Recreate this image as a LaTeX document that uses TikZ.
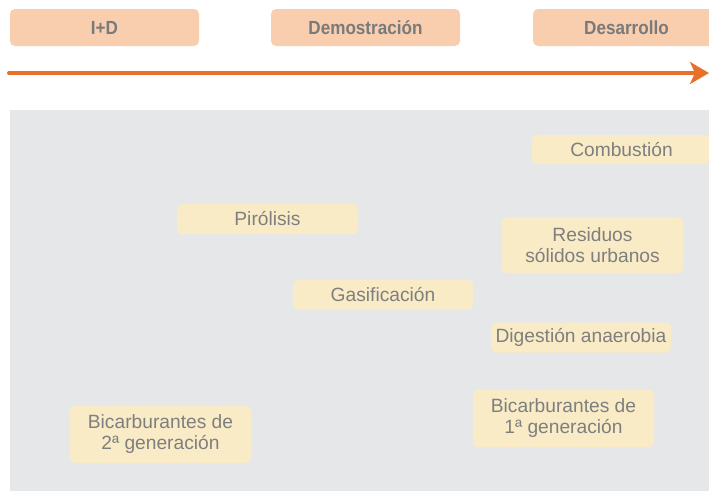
\documentclass[tikz,border=0pt]{standalone}
\usepackage{fontspec}
\setmainfont{Liberation Sans}
\newfontfamily\topfont[FakeStretch=0.9]{Liberation Sans}
\usetikzlibrary{arrows.meta}
\definecolor{peach}{HTML}{F8CEAF}
\definecolor{arroworange}{HTML}{E9702A}
\definecolor{bggray}{HTML}{E6E7E8}
\definecolor{paleyellow}{HTML}{F8EBC6}
\definecolor{txtgray}{HTML}{7F7F7F}
\definecolor{toptxt}{HTML}{7A7A7A}
\tikzset{
  phase/.style={fill=peach, rounded corners=5pt, minimum width=189pt, minimum height=37pt,
    inner sep=0pt, text=toptxt, font=\topfont\bfseries\fontsize{19}{22}\selectfont},
  tech/.style={fill=paleyellow, rounded corners=5pt, minimum width=181pt, minimum height=30pt,
    inner sep=0pt, align=center, text=txtgray, font=\fontsize{19.2}{21}\selectfont},
}
\begin{document}
\begin{tikzpicture}[x=1pt,y=-1pt]
\useasboundingbox (0,0) rectangle (709,491);
\clip (0,0) rectangle (709,491);
\fill[bggray] (10,110) rectangle (709,491);
% phases
\node[phase] (id) at (104.5,27.5) {I+D};
\node[phase] (demo) at (365.5,27.5) {Demostración};
\node[phase, minimum width=187pt] (desa) at (626.5,27.5) {Desarrollo};
% arrow
\coordinate (arrs) at (9,73);
\coordinate (arre) at (709,73);
\draw[arroworange, line width=4pt, line cap=round,
  -{Stealth[length=19pt,width=22pt,inset=5pt]}] (arrs) -- (arre);
% technologies
\node[tech, minimum width=179pt, minimum height=29pt] (comb) at (621.5,149.5) {Combustión};
\node[tech] (piro) at (267.5,219) {Pirólisis};
\node[tech, minimum height=56pt] (rsu) at (592.5,245) {Residuos\\sólidos urbanos};
\node[tech, minimum width=180pt, minimum height=29.5pt] (gasi) at (383,294.8) {Gasificación};
\node[tech, minimum width=180pt] (dige) at (581,337.5) {Digestión anaerobia};
\node[tech, minimum height=57pt] (bio1) at (563.5,418.5) {Bicarburantes de\\1ª generación};
\node[tech, minimum height=57pt] (bio2) at (160.5,434.5) {Bicarburantes de\\2ª generación};
\end{tikzpicture}
\end{document}
